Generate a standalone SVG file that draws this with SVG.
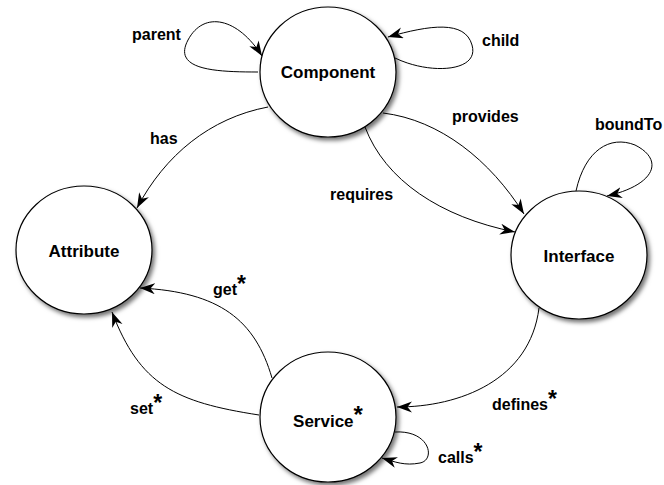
<svg xmlns="http://www.w3.org/2000/svg" width="664" height="485" viewBox="0 0 664 485">
<style>
.node{fill:#fff;stroke:#000;stroke-width:1.2;filter:url(#sh)}
.nl{font-family:"Liberation Sans",Arial,sans-serif;font-weight:bold;font-size:17px;text-anchor:middle;fill:#000}
.el{font-family:"Liberation Sans",Arial,sans-serif;font-weight:bold;font-size:16px;fill:#000}
.st{font-size:23px}
.e{fill:none;stroke:#000;stroke-width:1;marker-end:url(#ah)}
</style>
<defs>
<filter id="sh" x="-20%" y="-20%" width="150%" height="150%">
<feDropShadow dx="2.5" dy="3" stdDeviation="2" flood-color="#000" flood-opacity="0.55"/>
</filter>
<marker id="ah" markerUnits="userSpaceOnUse" markerWidth="17" markerHeight="13" refX="15" refY="5.5" orient="auto">
<path d="M0,0 L15,5.5 L0,11 L4.5,5.5 z" fill="#000"/>
</marker>
</defs>
<g id="connectors">
<path class="e" d="M258,72 C215,72 172,70 188,40 C204,10 238,18 262,56"/>
<path class="e" d="M395,58 C430,75 480,72 472,45 C465,20 430,25 388,37"/>
<path class="e" d="M268,107 C210,118 165,155 137,208"/>
<path class="e" d="M383,113 C440,120 490,160 524,214"/>
<path class="e" d="M365,127 C385,180 440,217 515,232"/>
<path class="e" d="M576,191 C585,150 610,135 635,145 C665,160 655,185 607,196"/>
<path class="e" d="M539,308 C530,380 460,407 397,407"/>
<path class="e" d="M395,432 C430,430 436,460 420,463 C405,466 395,462 382,458"/>
<path class="e" d="M272,378 C255,320 220,292 140,288"/>
<path class="e" d="M259,415 C175,402 140,385 112,312"/>
</g>
<g id="labels">
<text class="el" x="132" y="40">parent</text>
<text class="el" x="482" y="46">child</text>
<text class="el" x="150" y="144">has</text>
<text class="el" x="452" y="122">provides</text>
<text class="el" x="330" y="200">requires</text>
<text class="el" x="595" y="130">boundTo</text>
<text class="el" x="213" y="295">get<tspan class="st" dy="-3">*</tspan></text>
<text class="el" x="130" y="414">set<tspan class="st" dy="-3">*</tspan></text>
<text class="el" x="492" y="410">defines<tspan class="st" dy="-3">*</tspan></text>
<text class="el" x="438" y="463">calls<tspan class="st" dy="-3">*</tspan></text>
</g>
<g id="component">
<ellipse class="node" cx="328" cy="72" rx="68" ry="65"/>
<text class="nl" x="328" y="78">Component</text>
</g>
<g id="attribute">
<ellipse class="node" cx="84" cy="250" rx="68" ry="64"/>
<text class="nl" x="84" y="257">Attribute</text>
</g>
<g id="interface">
<ellipse class="node" cx="579" cy="255" rx="68" ry="64"/>
<text class="nl" x="579" y="262">Interface</text>
</g>
<g id="service">
<ellipse class="node" cx="328" cy="417" rx="68" ry="65"/>
<text class="nl" x="328" y="427">Service<tspan dy="-4" font-size="24">*</tspan></text>
</g>
</svg>
